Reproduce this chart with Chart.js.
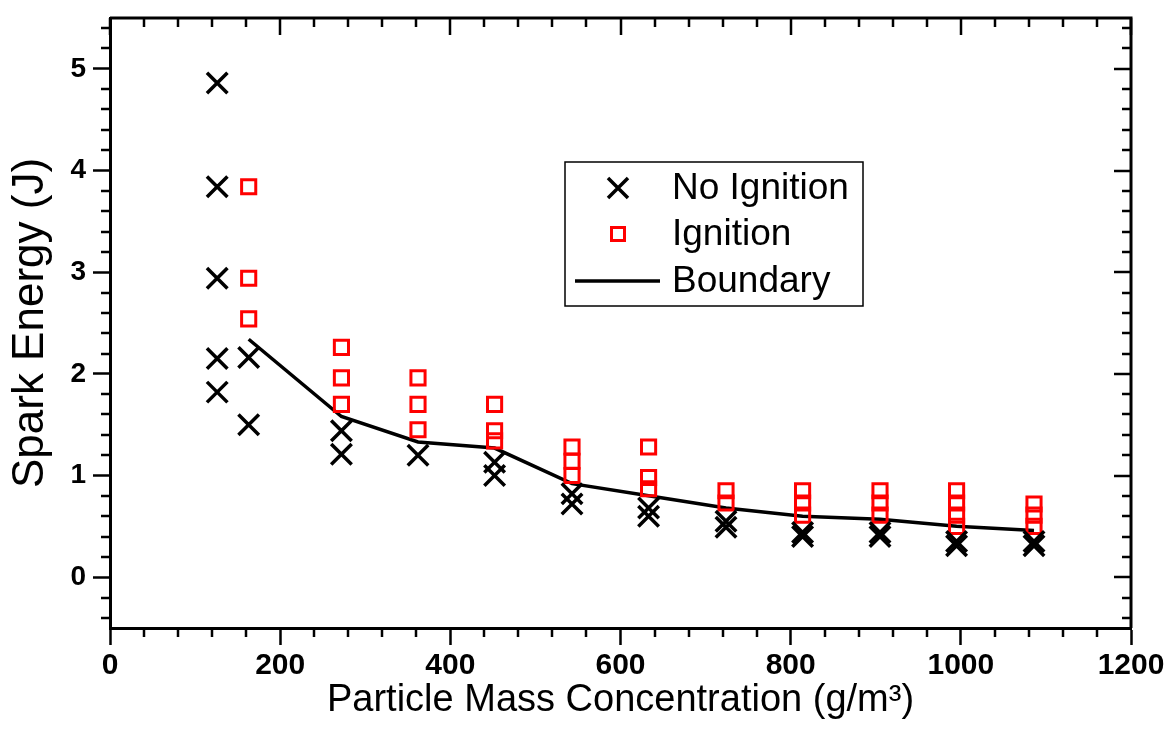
<!DOCTYPE html>
<html>
<head>
<meta charset="utf-8">
<script src="https://cdn.jsdelivr.net/npm/chart.js@4.4.1/dist/chart.umd.min.js"></script>
<style>
  html, body { margin: 0; padding: 0; background: #fff; }
  canvas { display: block; }
</style>
</head>
<body>
<canvas id="chart" width="1171" height="732"></canvas>
<script>
// particle mass concentration of each test column (g/m3)
const concentrations = [126, 163, 272, 362, 452, 543, 633, 724, 814, 905, 995, 1086];

// spark energies (J) per column
const noIgnition = [
  [4.86, 3.84, 2.94, 2.15, 1.82],
  [2.16, 1.50],
  [1.44, 1.21],
  [1.20],
  [1.13, 1.00],
  [0.82, 0.72],
  [0.68, 0.60],
  [0.55, 0.49],
  [0.44, 0.40],
  [0.44, 0.40],
  [0.35, 0.31],
  [0.35, 0.31]
];
const ignition = [
  [],
  [3.84, 2.94, 2.54],
  [2.26, 1.96, 1.70],
  [1.96, 1.70, 1.45],
  [1.70, 1.44, 1.34],
  [1.28, 1.14, 1.00],
  [1.28, 0.98, 0.87],
  [0.85, 0.73],
  [0.85, 0.73, 0.61],
  [0.85, 0.73, 0.61],
  [0.85, 0.73, 0.61, 0.50],
  [0.72, 0.61, 0.50]
];

const boundaryX = [163, 272, 362, 452, 543, 633, 724, 814, 905, 995, 1086];
const boundaryY = [2.34, 1.58, 1.33, 1.27, 0.92, 0.80, 0.68, 0.60, 0.57, 0.50, 0.46];

const xTicks = [0, 200, 400, 600, 800, 1000, 1200];
const yTicks = [0, 1, 2, 3, 4, 5];

const toPoints = (cols) => concentrations.flatMap((x, i) => cols[i].map(y => ({ x, y })));

const FONT = 'Liberation Sans, Arial, sans-serif';
Chart.defaults.font.family = FONT;
Chart.defaults.color = '#000';

// box frame: top/right axis lines, mirrored ticks and minor ticks
const frame = {
  id: 'frame',
  afterDraw(chart) {
    const { ctx, chartArea: { left, right, top, bottom }, scales: { x, y } } = chart;
    ctx.save();
    ctx.strokeStyle = '#000';
    ctx.lineWidth = 3;
    ctx.beginPath();
    ctx.moveTo(left, top);
    ctx.lineTo(right, top);
    ctx.lineTo(right, bottom);
    ctx.stroke();

    ctx.lineWidth = 2.5;
    ctx.beginPath();
    for (let i = 0; i <= 30; i++) {
      const v = i * 40;
      const px = Math.round(x.getPixelForValue(v));
      const major = i % 5 === 0;
      const len = major ? 17 : 9;
      ctx.moveTo(px, top);
      ctx.lineTo(px, top + len);
      if (!major) {
        ctx.moveTo(px, bottom);
        ctx.lineTo(px, bottom + 9);
      }
    }
    for (let i = -2; i <= 27; i++) {
      const v = i * 0.2;
      const py = Math.round(y.getPixelForValue(v));
      const major = i % 5 === 0;
      const len = major ? 17 : 9;
      ctx.moveTo(right, py);
      ctx.lineTo(right - len, py);
      if (!major) {
        ctx.moveTo(left, py);
        ctx.lineTo(left - 9, py);
      }
    }
    ctx.stroke();
    ctx.restore();
  }
};

// legend box inside the plot
const boxLegend = {
  id: 'boxLegend',
  afterDraw(chart) {
    const { ctx } = chart;
    const bx = 565, by = 162, bw = 298, bh = 144;
    ctx.save();
    ctx.fillStyle = '#fff';
    ctx.fillRect(bx, by, bw, bh);
    ctx.strokeStyle = '#000';
    ctx.lineWidth = 1.5;
    ctx.strokeRect(bx, by, bw, bh);

    const rows = [188, 234, 281];
    const mx = 618;
    chart.data.datasets.forEach((ds, i) => {
      const cy = rows[i];
      ctx.strokeStyle = ds.borderColor;
      if (ds.showLine) {
        ctx.lineWidth = 3.5;
        ctx.beginPath();
        ctx.moveTo(575, cy);
        ctx.lineTo(660, cy);
        ctx.stroke();
      } else if (ds.pointStyle === 'crossRot') {
        const h = 10;
        ctx.lineWidth = 3.5;
        ctx.beginPath();
        ctx.moveTo(mx - h, cy - h); ctx.lineTo(mx + h, cy + h);
        ctx.moveTo(mx + h, cy - h); ctx.lineTo(mx - h, cy + h);
        ctx.stroke();
      } else {
        ctx.lineWidth = 3;
        ctx.strokeRect(mx - 6.5, cy - 6.5, 13, 13);
      }
      ctx.fillStyle = '#000';
      ctx.font = '37px ' + FONT;
      ctx.textBaseline = 'middle';
      ctx.textAlign = 'left';
      ctx.fillText(ds.label, 672, cy + 1);
    });
    ctx.restore();
  }
};

new Chart(document.getElementById('chart'), {
  type: 'scatter',
  data: {
    datasets: [
      {
        label: 'No Ignition',
        data: toPoints(noIgnition),
        pointStyle: 'crossRot',
        pointRadius: 14.5,
        pointBorderWidth: 3.5,
        borderColor: '#000',
        backgroundColor: '#000'
      },
      {
        label: 'Ignition',
        data: toPoints(ignition),
        pointStyle: 'rect',
        pointRadius: 10,
        pointBorderWidth: 3,
        borderColor: '#ff0000',
        backgroundColor: 'rgba(0,0,0,0)'
      },
      {
        label: 'Boundary',
        data: boundaryX.map((x, i) => ({ x, y: boundaryY[i] })),
        showLine: true,
        pointRadius: 0,
        borderWidth: 3.5,
        borderColor: '#000',
        tension: 0
      }
    ]
  },
  options: {
    responsive: false,
    animation: false,
    devicePixelRatio: 1,
    layout: { padding: { top: 11, right: 40, left: 0, bottom: 0 } },
    plugins: {
      legend: { display: false },
      tooltip: { enabled: false }
    },
    scales: {
      x: {
        type: 'linear',
        min: 0,
        max: 1200,
        afterBuildTicks: s => { s.ticks = xTicks.map(v => ({ value: v })); },
        afterFit: s => { s.height = 104; s.paddingLeft = 0; s.paddingRight = 0; },
        ticks: {
          font: { size: 30, weight: 'bold' },
          color: '#000',
          padding: 3,
          maxRotation: 0,
          callback: v => String(v)
        },
        grid: { drawOnChartArea: false, tickLength: 17, tickWidth: 2.5, tickColor: '#000' },
        border: { display: true, width: 3, color: '#000' },
        title: {
          display: true,
          text: 'Particle Mass Concentration (g/m³)',
          font: { size: 38 },
          color: '#000',
          padding: { top: 0, bottom: 9 }
        }
      },
      y: {
        type: 'linear',
        min: -0.5,
        max: 5.5,
        afterBuildTicks: s => { s.ticks = yTicks.map(v => ({ value: v })); },
        afterFit: s => { s.width = 110; s.paddingTop = 0; s.paddingBottom = 0; },
        ticks: {
          font: { size: 28, weight: 'bold' },
          color: '#000',
          padding: 7,
          callback: v => String(v)
        },
        grid: { drawOnChartArea: false, tickLength: 17, tickWidth: 2.5, tickColor: '#000' },
        border: { display: true, width: 3, color: '#000' },
        title: {
          display: true,
          text: 'Spark Energy (J)',
          font: { size: 44 },
          color: '#000',
          padding: { top: 4, bottom: 0 }
        }
      }
    }
  },
  plugins: [frame, boxLegend]
});
</script>
</body>
</html>
